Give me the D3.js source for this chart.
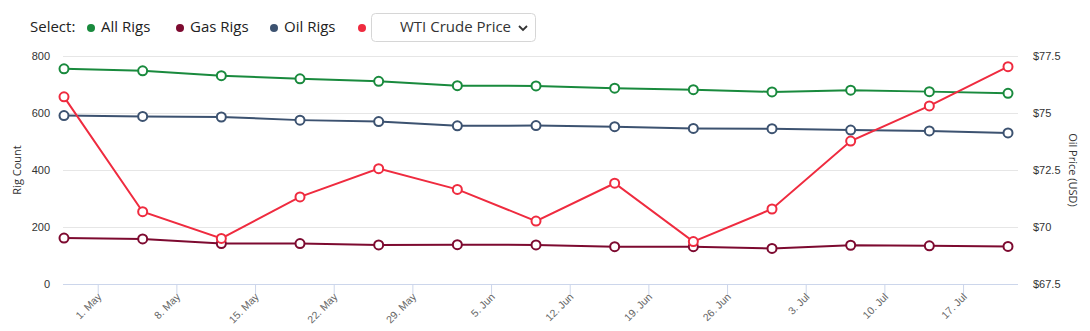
<!DOCTYPE html>
<html><head><meta charset="utf-8">
<script src="https://cdn.jsdelivr.net/npm/d3@7"></script>
<style>
html,body{margin:0;padding:0;background:#fff;}
svg{display:block;font-family:"Open Sans","Liberation Sans",sans-serif;}
</style></head>
<body><svg id="c" width="1090" height="331"></svg>
<script>
const dates = ["2023-04-28","2023-05-05","2023-05-12","2023-05-19","2023-05-26","2023-06-02","2023-06-09","2023-06-16","2023-06-23","2023-06-30","2023-07-07","2023-07-14","2023-07-21"];
const allRigs = [755,748,731,720,711,696,695,687,682,674,680,675,669];
const gasRigs = [161,158,142,142,137,138,137,131,131,125,136,134,132];
const oilRigs = [591,588,586,575,570,555,556,552,546,545,540,537,530];
const wtiPrice = [75.71,70.67,69.50,71.32,72.56,71.65,70.26,71.92,69.36,70.79,73.77,75.31,77.03];
const leftTicks = [0,200,400,600,800];
const rightTicks = [67.5,70,72.5,75,77.5];
const xTickDates = ["2023-05-01","2023-05-08","2023-05-15","2023-05-22","2023-05-29","2023-06-05","2023-06-12","2023-06-19","2023-06-26","2023-07-03","2023-07-10","2023-07-17"];
const legendNames = ["All Rigs","Gas Rigs","Oil Rigs"];
const selectLabel = "WTI Crude Price";

(function(){
const colors = {all:"#198a3d", gas:"#7d0a30", oil:"#3c5270", wti:"#ef2b3f"};
const parse = d3.utcParse("%Y-%m-%d");
const D = dates.map(parse);

const svg = d3.select("#c");
const pL = 63, pR = 1018, pT = 56, pB = 284;
const x = d3.scaleUtc().domain([D[0], D[D.length-1]]).range([64, 1008]);
const yL = d3.scaleLinear().domain([0,800]).range([pB, pT]);
const yR = d3.scaleLinear().domain([67.5,77.5]).range([pB, pT]);

// gridlines
svg.append("g").selectAll("line").data(leftTicks.slice(1)).join("line")
  .attr("x1", pL).attr("x2", pR)
  .attr("y1", d=>yL(d)+0.5).attr("y2", d=>yL(d)+0.5)
  .attr("stroke", "#e6e6e6").attr("stroke-width", 1);

// x axis
const xAxis = d3.axisBottom(x).tickValues(xTickDates.map(parse))
  .tickFormat(d3.utcFormat("%-d. %b")).tickSize(10).tickSizeOuter(0);
const gx = svg.append("g").attr("transform", `translate(0,${pB+0.5})`).call(xAxis);
gx.select(".domain").attr("d", `M${pL},0H${pR}`).attr("stroke", "#ccd6eb");
gx.selectAll(".tick line").attr("stroke", "#ccd6eb");
gx.selectAll(".tick text").attr("fill", "#666").attr("font-size", "10.5px")
  .attr("text-anchor", "end").attr("dy", null).attr("y", null)
  .attr("transform", "translate(4,13) rotate(-45)");

// y axes labels
const gl = svg.append("g").attr("transform", `translate(${pL},0)`)
  .call(d3.axisLeft(yL).tickValues(leftTicks).tickSize(0).tickPadding(13));
gl.select(".domain").remove();
gl.selectAll("text").attr("fill", "#333").attr("font-size", "11px");
const gr = svg.append("g").attr("transform", `translate(${pR},0)`)
  .call(d3.axisRight(yR).tickValues(rightTicks).tickSize(0).tickPadding(15).tickFormat(d=>"$"+d));
gr.select(".domain").remove();
gr.selectAll("text").attr("fill", "#333").attr("font-size", "11px");

svg.append("text").attr("transform", `translate(21,${(pT+pB)/2}) rotate(-90)`)
  .attr("text-anchor","middle").attr("font-size","11px").attr("fill","#333").text("Rig Count");
svg.append("text").attr("transform", `translate(1069,${(pT+pB)/2}) rotate(90)`)
  .attr("text-anchor","middle").attr("font-size","11px").attr("fill","#333").text("Oil Price (USD)");

// series
const series = [
  {v: allRigs, y: yL, c: colors.all},
  {v: oilRigs, y: yL, c: colors.oil},
  {v: gasRigs, y: yL, c: colors.gas},
  {v: wtiPrice, y: yR, c: colors.wti}
];
series.forEach(s => {
  const pts = s.v.map((v,i)=>[x(D[i]), s.y(v)]);
  svg.append("path").attr("d", d3.line()(pts)).attr("fill","none")
    .attr("stroke", s.c).attr("stroke-width", 2);
  svg.append("g").selectAll("circle").data(pts).join("circle")
    .attr("cx", d=>d[0]).attr("cy", d=>d[1]).attr("r", 4.5)
    .attr("fill", "#fff").attr("stroke", s.c).attr("stroke-width", 2);
});

// legend / select row
const ly = 27;
svg.append("text").attr("x", 30).attr("y", ly).attr("dy","0.35em")
  .attr("font-size","15px").attr("fill","#222").text("Select:");
const legX = [91, 180, 274];
const legC = [colors.all, colors.gas, colors.oil];
legendNames.forEach((n,i)=>{
  svg.append("circle").attr("cx", legX[i]).attr("cy", ly+1).attr("r", 4).attr("fill", legC[i]);
  svg.append("text").attr("x", legX[i]+10).attr("y", ly).attr("dy","0.35em")
    .attr("font-size","15px").attr("fill","#222").text(n);
});
svg.append("circle").attr("cx", 362).attr("cy", ly+1).attr("r", 4).attr("fill", colors.wti);
svg.append("rect").attr("x", 371.5).attr("y", 13.5).attr("width", 164).attr("height", 28).attr("rx", 4)
  .attr("fill","#fff").attr("stroke","#d6d6d6");
svg.append("text").attr("x", 400).attr("y", ly).attr("dy","0.35em")
  .attr("font-size","15px").attr("fill","#333").text(selectLabel);
svg.append("path").attr("d", "M519,26 L523,30 L527,26").attr("fill","none")
  .attr("stroke","#333").attr("stroke-width",1.8);
})();
</script></body></html>
